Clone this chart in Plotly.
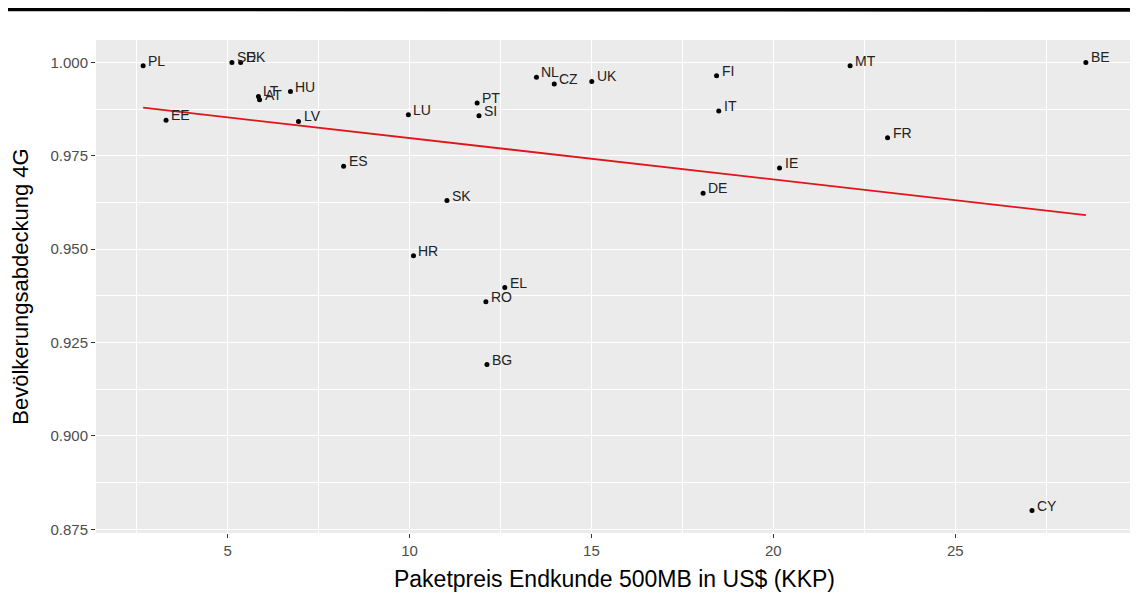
import numpy as np
import plotly.graph_objects as go

countries = ["PL", "SE", "DK", "LT", "AT", "HU", "EE", "LV", "ES", "LU", "HR", "SK",
             "PT", "SI", "NL", "CZ", "UK", "EL", "RO", "BG", "FI", "IT", "DE", "IE",
             "MT", "FR", "BE", "CY"]
price = [2.68, 5.12, 5.36, 5.85, 5.88, 6.73, 3.31, 6.95, 8.19, 9.97, 10.11, 11.03,
         11.86, 11.91, 13.49, 13.98, 15.01, 12.62, 12.10, 12.13, 18.44, 18.50, 18.07, 20.17,
         22.11, 23.14, 28.59, 27.11]
coverage = [0.9991, 1.0000, 1.0000, 0.9909, 0.9900, 0.9922, 0.9845, 0.9842, 0.9722, 0.9860,
            0.9482, 0.9630, 0.9891, 0.9857, 0.9960, 0.9942, 0.9949, 0.9397, 0.9359, 0.9191,
            0.9964, 0.9870, 0.9650, 0.9717, 0.9991, 0.9798, 1.0000, 0.8800]

x_ticks = [5, 10, 15, 20, 25]
y_ticks = [0.875, 0.900, 0.925, 0.950, 0.975, 1.000]

xa = np.array(price)
ya = np.array(coverage)
slope, intercept = np.polyfit(xa, ya, 1)
fit_x = np.linspace(xa.min(), xa.max(), 80)
fit_y = intercept + slope * fit_x

# ggplot-style 5% expansion
xr = xa.max() - xa.min()
yr = ya.max() - ya.min()
x_range = [xa.min() - 0.05 * xr, xa.max() + 0.05 * xr]
y_range = [ya.min() - 0.05 * yr, ya.max() + 0.05 * yr]

FONT = "Liberation Sans, Arial, sans-serif"
W, H = 1130, 587
ML, MR, MT, MB = 88, 5, 32, 62
PW, PH = W - ML - MR, H - MT - MB

fig = go.Figure()
fig.add_trace(go.Scatter(
    x=price, y=coverage, mode="markers",
    marker=dict(color="black", size=5),
    hoverinfo="skip", showlegend=False,
))
fig.add_trace(go.Scatter(
    x=fit_x, y=fit_y, mode="lines",
    line=dict(color="#E0141A", width=1.8),
    hoverinfo="skip", showlegend=False,
))

for c, px, py in zip(countries, price, coverage):
    fig.add_annotation(
        x=px, y=py, text=c, showarrow=False,
        xanchor="left", yanchor="bottom", xshift=3, yshift=-5,
        font=dict(family=FONT, size=14, color="#222222"),
    )

# thick black rule at the top of the image
fig.add_shape(type="line", xref="paper", yref="paper",
              x0=-ML / PW, x1=(W - ML) / PW,
              y0=1 + (MT - 1) / PH, y1=1 + (MT - 1.5) / PH,
              line=dict(color="black", width=4.5))

axis_common = dict(
    showgrid=True, gridcolor="white", gridwidth=1.2,
    zeroline=False, showline=False,
    ticks="outside", ticklen=4, tickwidth=1, tickcolor="#333333",
    tickfont=dict(family=FONT, size=15, color="#4D4D4D"),
)

fig.update_layout(
    width=W, height=H,
    margin=dict(l=ML, r=MR, t=MT, b=MB),
    paper_bgcolor="white", plot_bgcolor="#EBEBEB",
    font=dict(family=FONT),
    xaxis=dict(
        range=x_range, tickmode="array", tickvals=x_ticks,
        ticktext=[str(v) for v in x_ticks],
        minor=dict(dtick=2.5, tick0=0, showgrid=True, gridcolor="white", gridwidth=0.6, ticks=""),
        title=dict(text="Paketpreis Endkunde 500MB in US$ (KKP)",
                   font=dict(family=FONT, size=23, color="black"), standoff=12),
        **axis_common,
    ),
    yaxis=dict(
        range=y_range, tickmode="array", tickvals=y_ticks,
        ticktext=[f"{v:.3f}" for v in y_ticks],
        minor=dict(dtick=0.0125, tick0=0.875, showgrid=True, gridcolor="white", gridwidth=0.6, ticks=""),
        title=dict(text="Bevölkerungsabdeckung 4G",
                   font=dict(family=FONT, size=22, color="black"), standoff=16),
        **axis_common,
    ),
)

fig.write_html("out.html")
